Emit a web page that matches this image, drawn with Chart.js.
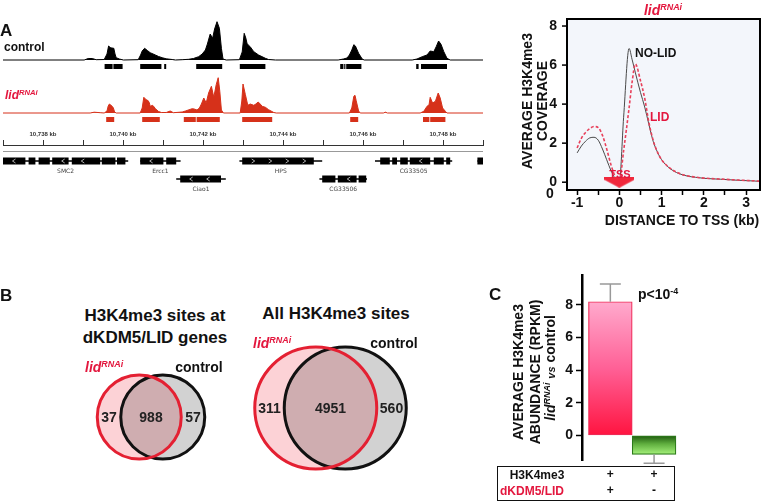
<!DOCTYPE html>
<html>
<head>
<meta charset="utf-8">
<script src="https://cdn.jsdelivr.net/npm/chart.js@4.4.1/dist/chart.umd.min.js"></script>
<style>
body { margin: 0; background: #fff; }
#fig { position: relative; width: 762px; height: 501px; overflow: hidden; font-family: 'Liberation Sans', Arial, sans-serif; font-weight: bold; color: #111; }
#fig canvas { position: absolute; }
.t { position: absolute; white-space: nowrap; line-height: 1; }
.c { transform: translate(-50%, -50%); }
.l { transform: translateY(-50%); }
.v { transform: translate(-50%, -50%) rotate(-90deg); }
.red { color: #e3173e; }
.it { font-style: italic; }
sup { font-size: 0.64em; vertical-align: 0.55em; line-height: 0; }
.box { position: absolute; border: 1.5px solid #111; box-sizing: border-box; }
</style>
</head>
<body>
<div id="fig">
  <canvas id="ctrlTrack" width="486" height="54" style="left:0;top:18px"></canvas>
  <canvas id="lidTrack" width="486" height="54" style="left:0;top:71px"></canvas>
  <canvas id="genes" width="486" height="72" style="left:0;top:125px"></canvas>
  <canvas id="tss" width="262" height="232" style="left:500px;top:0"></canvas>
  <canvas id="vennSmall" width="132" height="104" style="left:85px;top:365px"></canvas>
  <canvas id="vennAll" width="165" height="136" style="left:248px;top:340px"></canvas>
  <canvas id="bars" width="220" height="241" style="left:480px;top:260px"></canvas>

  <div class="t l" style="left:0;top:30px;font-size:17px">A</div>
  <div class="t l" style="left:4px;top:47px;font-size:12px">control</div>
  <div class="t l red" style="left:5px;top:95px;font-size:12px"><span class="it">lid</span><sup class="it">RNAi</sup></div>

  <div class="t c red" style="left:663px;top:10px;font-size:14px"><span class="it">lid</span><sup class="it">RNAi</sup></div>
  <div class="t v" style="left:527px;top:101px;font-size:14px">AVERAGE H3K4me3</div>
  <div class="t v" style="left:542px;top:101px;font-size:14px">COVERAGE</div>
  <div class="t c" style="left:682px;top:220px;font-size:14px">DISTANCE TO TSS (kb)</div>
  <div class="t c" style="left:550px;top:193px;font-size:14px">0</div>
  <div class="t l" style="left:635px;top:53px;font-size:12px">NO-LID</div>
  <div class="t l red" style="left:650px;top:117px;font-size:12px">LID</div>
  <div class="t c red" style="left:620px;top:174px;font-size:11px">TSS</div>

  <div class="t l" style="left:0;top:295px;font-size:17px">B</div>
  <div class="t c" style="left:155px;top:315px;font-size:17px">H3K4me3 sites at</div>
  <div class="t c" style="left:155px;top:337px;font-size:17px">dKDM5/LID genes</div>
  <div class="t c" style="left:336px;top:313px;font-size:17px">All H3K4me3 sites</div>
  <div class="t l red" style="left:85px;top:367px;font-size:14px"><span class="it">lid</span><sup class="it">RNAi</sup></div>
  <div class="t c" style="left:199px;top:367px;font-size:14px">control</div>
  <div class="t l red" style="left:253px;top:343px;font-size:14px"><span class="it">lid</span><sup class="it">RNAi</sup></div>
  <div class="t c" style="left:394px;top:343px;font-size:14px">control</div>

  <div class="t l" style="left:489px;top:294px;font-size:17px">C</div>
  <div class="t v" style="left:518px;top:372px;font-size:14px">AVERAGE H3K4me3</div>
  <div class="t v" style="left:535px;top:372px;font-size:14px">ABUNDANCE (RPKM)</div>
  <div class="t v" style="left:550px;top:368px;font-size:14px"><span class="it">lid</span><sup class="it">RNAi</sup> <span class="it" style="font-size:11px">vs</span> control</div>
  <div class="t l" style="left:638px;top:294px;font-size:14px">p&lt;10<sup>-4</sup></div>
  <div class="box" style="left:497px;top:466px;width:178px;height:35px"></div>
  <div class="t c" style="left:537px;top:475px;font-size:12px">H3K4me3</div>
  <div class="t c red" style="left:532px;top:491px;font-size:12px">dKDM5/LID</div>
</div>

<script>
// ---- A: genome browser tracks (position in kb, coverage)
const ctrlKb = [10737, 10739.03, 10739.13, 10739.23, 10739.33, 10739.53, 10739.60, 10739.64, 10739.68, 10739.72, 10739.77, 10739.80, 10739.83, 10739.91, 10740.01,
    10740.38, 10740.44, 10740.48, 10740.54, 10740.61, 10740.68, 10740.81, 10740.89, 10740.98, 10741.08, 10741.23, 10741.31,
    10741.48, 10741.64, 10741.76, 10741.89, 10741.98, 10742.06, 10742.11, 10742.18, 10742.24, 10742.29, 10742.35, 10742.41, 10742.46, 10742.50, 10742.58,
    10742.91, 10742.98, 10743.03, 10743.07, 10743.10, 10743.13, 10743.18, 10743.22, 10743.27, 10743.39, 10743.56, 10743.64, 10743.81,
    10745.38, 10745.51, 10745.60, 10745.66, 10745.72, 10745.77, 10745.81, 10745.89, 10745.98, 10746.03,
    10747.23, 10747.35, 10747.48, 10747.60, 10747.68, 10747.77, 10747.83, 10747.89, 10747.95, 10748.02, 10748.10, 10748.18, 10749]
const ctrlCov = [0, 0, 1.5, 1.5, 0.3, 0.5, 6, 14, 12.5, 12, 11.7, 6, 2.3, 1, 0,
    0.3, 5, 9, 11.7, 9.5, 7.3, 5, 3.5, 2.3, 1.2, 0.5, 0,
    0.3, 0.7, 1.5, 3.3, 6, 10, 16, 26, 21.7, 31, 38.3, 31.7, 11.7, 1, 0,
    0.3, 8, 26.7, 22, 16.7, 15, 13.3, 11, 8.3, 5, 1.7, 0.5, 0,
    0, 1, 2, 5, 10, 15.3, 14, 6.7, 1, 0,
    0, 1, 3.3, 5, 9, 8.3, 13.3, 19, 15.7, 8.3, 1.7, 0, 0]
const lidKb = [10737, 10739.18, 10739.28, 10739.43, 10739.53, 10739.60, 10739.63, 10739.66, 10739.73, 10739.76, 10739.79, 10739.83,
    10740.43, 10740.48, 10740.52, 10740.58, 10740.63, 10740.66, 10740.68, 10740.74, 10740.78, 10740.81, 10740.89, 10740.96, 10741.08, 10741.18, 10741.26,
    10741.48, 10741.56, 10741.73, 10741.78, 10741.85, 10741.91, 10741.96, 10742.02, 10742.08, 10742.14, 10742.21, 10742.27, 10742.33, 10742.38, 10742.42, 10742.46, 10742.51,
    10742.93, 10742.97, 10743.00, 10743.06, 10743.12, 10743.18, 10743.27, 10743.32, 10743.38, 10743.43, 10743.48, 10743.56, 10743.64, 10743.77, 10743.83,
    10745.66, 10745.72, 10745.77, 10745.80, 10745.83, 10745.89, 10745.93,
    10746.51, 10746.56, 10746.61,
    10747.43, 10747.52, 10747.60, 10747.65, 10747.68, 10747.74, 10747.81, 10747.88, 10747.93, 10747.99, 10748.06, 10748.10, 10749]
const lidCov = [0, 0, 0.8, 0.3, 0, 2, 7, 9, 6.7, 5, 1, 0,
    0, 5, 15.7, 13.3, 12.3, 10, 6.7, 7.7, 6, 4.3, 1.5, 0.5, 0.5, 2, 0.3,
    1, 2, 4.3, 4, 3, 5, 9, 15, 10, 20, 26.7, 15.7, 28.3, 35.3, 21.7, 3, 0,
    0, 12, 29, 18.3, 7.7, 9, 7.7, 9, 11, 9, 6.7, 5.7, 3.3, 0.5, 0,
    0, 5, 16.7, 17.7, 12.3, 2, 0,
    0, 0.8, 0,
    0, 1.7, 6.7, 8, 15.7, 10, 11.7, 20, 15, 5, 1.7, 0, 0]

// called peaks under each track
const ctrlPeakStart = [10739.54, 10739.76, 10740.43, 10741.03, 10741.83, 10742.92, 10745.43, 10745.53, 10745.58, 10747.33, 10747.45]
const ctrlPeakEnd = [10739.74, 10739.99, 10740.96, 10741.08, 10742.48, 10743.56, 10745.51, 10745.56, 10745.96, 10747.39, 10748.10]
const lidPeakStart = [10739.58, 10740.48, 10741.52, 10741.84, 10742.98, 10745.68, 10747.50, 10747.68]
const lidPeakEnd = [10739.78, 10740.92, 10741.82, 10742.42, 10743.73, 10745.88, 10747.66, 10748.06]

// ruler ticks (kb)
const kbTicks = [10737, 10738, 10739, 10740, 10741, 10742, 10743, 10744, 10745, 10746, 10747, 10748, 10749]

// gene models
const geneNames = ['SMC2', 'Ercc1', 'HPS', 'CG33505', '', 'Ciao1', 'CG33506']
const geneRow = [1, 1, 1, 1, 1, 0, 0]
const geneStrand = [-1, -1, 1, -1, 0, -1, -1]
const geneStart = [10737.0, 10740.43, 10742.91, 10746.30, 10748.86, 10741.33, 10744.91]
const geneEnd = [10740.13, 10741.44, 10744.98, 10748.23, 10749.0, 10742.57, 10746.10]
const geneExons = [
    [[10737.0, 10737.56], [10737.64, 10737.81], [10737.89, 10738.17], [10738.23, 10738.64], [10738.72, 10739.43], [10739.47, 10739.81], [10739.85, 10740.06]],
    [[10740.43, 10741.01], [10741.08, 10741.33]],
    [[10742.98, 10744.77]],
    [[10746.43, 10746.67], [10746.73, 10746.85], [10746.93, 10747.12], [10747.17, 10747.68], [10747.77, 10748.02], [10748.08, 10748.18]],
    [[10748.86, 10749.0]],
    [[10741.43, 10742.45]],
    [[10744.98, 10745.31], [10745.37, 10745.84], [10745.89, 10746.08]]
]

// ---- A right: average profile around TSS
const tssKb = [-1, -0.9, -0.8, -0.7, -0.6, -0.5, -0.4, -0.3, -0.2, -0.1, 0, 0.1, 0.23, 0.3, 0.38, 0.5, 0.6, 0.7, 0.8, 0.9, 1.0, 1.2, 1.4, 1.6, 1.8, 2.0, 2.4, 2.8, 3.2, 3.35]
const noLidCov = [1.5, 1.85, 2.1, 2.27, 2.3, 2.15, 1.7, 1.15, 0.6, 0.2, 0.05, 3.3, 6.85, 6.3, 5.6, 4.6, 3.85, 2.95, 2.1, 1.55, 1.15, 0.7, 0.45, 0.32, 0.25, 0.2, 0.15, 0.1, 0.06, 0.04]
const lidProfileCov = [1.75, 2.25, 2.55, 2.75, 2.85, 2.8, 2.4, 1.7, 0.9, 0.3, 0.05, 1.6, 3.8, 5.1, 6.05, 5.2, 4.3, 3.05, 2.15, 1.55, 1.15, 0.72, 0.47, 0.33, 0.26, 0.21, 0.16, 0.11, 0.07, 0.05]
const tssXTicks = [-1, -0.5, 0, 0.5, 1, 1.5, 2, 2.5, 3]
const tssYTicks = [0, 2, 4, 6, 8]

// ---- B: venn counts (lid only, both, control only)
const vennSmall = [37, 988, 57]
const vennAll = [311, 4951, 560]

// ---- C: abundance bars
const barValues = [8.2, -1.17]
const barErrors = [1.08, 0.55]
const barRowH3 = ['+', '+']
const barRowLid = ['+', '-']
const barYTicks = [0, 2, 4, 6, 8]

Chart.defaults.font.family = "'Liberation Sans', Arial, sans-serif"
Chart.defaults.animation = false
Chart.defaults.responsive = false
Chart.defaults.devicePixelRatio = 1
Chart.defaults.layout.autoPadding = false
Chart.defaults.plugins.legend.display = false
Chart.defaults.plugins.tooltip.enabled = false
Chart.defaults.elements.point.radius = 0

const trackRed = '#d6311a'

function segs(starts, ends, y) {
    let pts = []
    starts.forEach((s, i) => {
        pts.push({ x: s, y: y }, { x: ends[i], y: y }, { x: ends[i], y: null })
    })
    return pts
}

function fixedTicks(list) {
    return function(scale) {
        scale.ticks = list.map(v => ({ value: v }))
    }
}

function trackChart(id, kb, cov, pStart, pEnd, color) {
    new Chart(document.getElementById(id), {
        type: 'line',
        data: {
            datasets: [{
                data: kb.map((x, i) => ({ x: x, y: cov[i] })),
                borderColor: color,
                backgroundColor: color,
                borderWidth: 1,
                fill: 'origin'
            }, {
                data: segs(pStart, pEnd, -6.5),
                borderColor: color,
                borderWidth: 5,
                spanGaps: false
            }]
        },
        options: {
            layout: { padding: { left: 3, right: 3 } },
            scales: {
                x: { type: 'linear', min: 10737, max: 10749, display: false },
                y: { min: -12, max: 42, display: false }
            }
        }
    })
}

trackChart('ctrlTrack', ctrlKb, ctrlCov, ctrlPeakStart, ctrlPeakEnd, '#000')
trackChart('lidTrack', lidKb, lidCov, lidPeakStart, lidPeakEnd, trackRed)

// genes + coordinate ruler
let intronPts = [],
    exonPts = []
geneNames.forEach((g, i) => {
    intronPts.push({ x: geneStart[i], y: geneRow[i] }, { x: geneEnd[i], y: geneRow[i] }, { x: geneEnd[i], y: null })
    geneExons[i].forEach(e => {
        exonPts.push({ x: e[0], y: geneRow[i] }, { x: e[1], y: geneRow[i] }, { x: e[1], y: null })
    })
})

const geneLabels = {
    id: 'geneLabels',
    afterDatasetsDraw(chart) {
        const ctx = chart.ctx,
            xs = chart.scales.x,
            ys = chart.scales.y,
            a = chart.chartArea
        ctx.save()
        ctx.strokeStyle = '#999'
        ctx.lineWidth = 1
        ctx.beginPath()
        ctx.moveTo(a.left, a.top + 6.5)
        ctx.lineTo(a.right, a.top + 6.5)
        ctx.stroke()

        // strand chevrons inside the exons
        ctx.strokeStyle = 'rgba(255,255,255,0.85)'
        ctx.lineWidth = 0.8
        geneExons.forEach((ex, i) => {
            if (!geneStrand[i]) return
            const y = ys.getPixelForValue(geneRow[i])
            ex.forEach(e => {
                const x0 = xs.getPixelForValue(e[0]),
                    x1 = xs.getPixelForValue(e[1])
                for (let x = x0 + 11; x < x1 - 4; x += 17) {
                    ctx.beginPath()
                    ctx.moveTo(x + geneStrand[i] * -1.5, y - 2)
                    ctx.lineTo(x + geneStrand[i] * 1.5, y)
                    ctx.lineTo(x + geneStrand[i] * -1.5, y + 2)
                    ctx.stroke()
                }
            })
        })

        ctx.fillStyle = '#444'
        ctx.font = "6px 'DejaVu Sans', sans-serif"
        ctx.textAlign = 'center'
        ctx.textBaseline = 'middle'
        geneNames.forEach((g, i) => {
            ctx.fillText(g, xs.getPixelForValue((geneStart[i] + geneEnd[i]) / 2), ys.getPixelForValue(geneRow[i]) + 10)
        })
        ctx.restore()
    }
}

new Chart(document.getElementById('genes'), {
    type: 'line',
    data: {
        datasets: [{
            data: intronPts,
            borderColor: '#000',
            borderWidth: 1.5,
            spanGaps: false
        }, {
            data: exonPts,
            borderColor: '#000',
            borderWidth: 7,
            spanGaps: false
        }]
    },
    options: {
        layout: { padding: { left: 3, right: 3 } },
        scales: {
            x: {
                type: 'linear',
                position: 'top',
                min: 10737,
                max: 10749,
                afterBuildTicks: fixedTicks(kbTicks),
                afterFit: s => { s.height = 20 },
                border: { color: '#333', width: 1 },
                grid: { drawOnChartArea: false, tickLength: 5, color: '#333' },
                ticks: {
                    autoSkip: false,
                    maxRotation: 0,
                    padding: 2,
                    color: '#333',
                    font: { size: 6, weight: 'bold' },
                    callback: v => v % 2 === 0 ? v.toLocaleString('en-US') + ' kb' : ''
                }
            },
            y: { min: -1, max: 1.89, display: false }
        }
    },
    plugins: [geneLabels]
})

// ---- TSS profile
// frame + y axis labels/ticks drawn from the y scale
const frame = {
    id: 'frame',
    beforeDraw(chart) {
        const a = chart.chartArea
        chart.ctx.save()
        chart.ctx.fillStyle = '#f3f6fb'
        chart.ctx.fillRect(a.left, a.top, a.width, a.height)
        chart.ctx.restore()
    },
    afterDraw(chart) {
        const a = chart.chartArea,
            ctx = chart.ctx,
            ys = chart.scales.y
        ctx.save()
        ctx.strokeStyle = '#000'
        ctx.lineWidth = 2
        ctx.strokeRect(a.left, a.top, a.width, a.height)
        ctx.lineWidth = 1.5
        ctx.fillStyle = '#111'
        ctx.font = "bold 14px 'Liberation Sans', Arial, sans-serif"
        ctx.textAlign = 'right'
        ctx.textBaseline = 'middle'
        tssYTicks.forEach(v => {
            const y = ys.getPixelForValue(v)
            ctx.beginPath()
            ctx.moveTo(a.left - 5, y)
            ctx.lineTo(a.left, y)
            ctx.stroke()
            ctx.fillText(String(v), a.left - 10, y)
        })
        ctx.restore()
    }
}

const arrow = document.createElement('canvas')
arrow.width = 30
arrow.height = 11
const actx = arrow.getContext('2d')
actx.fillStyle = '#f0283c'
actx.beginPath()
actx.moveTo(0, 0)
actx.lineTo(30, 0)
actx.lineTo(30, 3)
actx.lineTo(15, 11)
actx.lineTo(0, 3)
actx.closePath()
actx.fill()

new Chart(document.getElementById('tss'), {
    type: 'line',
    data: {
        datasets: [{
            data: [{ x: 0, y: 0 }],
            showLine: false,
            pointStyle: arrow,
            pointRadius: 5,
            order: 0
        }, {
            data: tssKb.map((x, i) => ({ x: x, y: lidProfileCov[i] })),
            borderColor: '#e8405a',
            borderWidth: 1.6,
            borderDash: [3, 2],
            cubicInterpolationMode: 'monotone',
            order: 1
        }, {
            data: tssKb.map((x, i) => ({ x: x, y: noLidCov[i] })),
            borderColor: '#4a4a4a',
            borderWidth: 1,
            cubicInterpolationMode: 'monotone',
            order: 2
        }]
    },
    options: {
        layout: { padding: { top: 19, right: 2 } },
        scales: {
            x: {
                type: 'linear',
                min: -1.24,
                max: 3.33,
                afterBuildTicks: fixedTicks(tssXTicks),
                afterFit: s => { s.height = 42 },
                border: { display: false },
                grid: { drawOnChartArea: false, tickLength: 5, color: '#000', tickWidth: 1.5 },
                ticks: {
                    autoSkip: false,
                    maxRotation: 0,
                    padding: 0,
                    color: '#111',
                    font: { size: 14, weight: 'bold' },
                    callback: v => Number.isInteger(v) ? String(v) : ''
                }
            },
            y: {
                min: -0.4,
                max: 8.36,
                afterBuildTicks: fixedTicks(tssYTicks),
                afterFit: s => { s.width = 67 },
                border: { display: false },
                grid: { display: false },
                ticks: { display: false }
            }
        }
    },
    plugins: [frame]
})

// ---- Venn diagrams
const blend = {
    id: 'blend',
    beforeDatasetDraw(chart, args) {
        chart.ctx.save()
        if (chart.data.datasets[args.index].blend) chart.ctx.globalCompositeOperation = 'multiply'
    },
    afterDatasetDraw(chart) {
        chart.ctx.restore()
    }
}

const vennCounts = {
    id: 'vennCounts',
    afterDatasetsDraw(chart, args, opts) {
        const L = chart.getDatasetMeta(0).data[0],
            R = chart.getDatasetMeta(1).data[0]
        const r = L.options.radius
        const xs = [((L.x - r) + (R.x - r)) / 2, ((R.x - r) + (L.x + r)) / 2, ((L.x + r) + (R.x + r)) / 2]
        const ctx = chart.ctx
        ctx.save()
        ctx.fillStyle = '#222'
        ctx.font = "bold 14px 'Liberation Sans', Arial, sans-serif"
        ctx.textAlign = 'center'
        ctx.textBaseline = 'middle'
        opts.counts.forEach((c, i) => ctx.fillText(String(c), xs[i], L.y + 1))
        ctx.restore()
    }
}

function venn(id, counts, half, r) {
    const cv = document.getElementById(id)
    const w = cv.width / 2,
        h = cv.height / 2
    new Chart(cv, {
        type: 'bubble',
        data: {
            datasets: [
                { data: [{ x: -half, y: 0, r: r }], borderColor: '#e42032', borderWidth: 3, backgroundColor: 'transparent', clip: false, order: 1 },
                { data: [{ x: half, y: 0, r: r }], borderColor: '#111', borderWidth: 3, backgroundColor: 'transparent', clip: false, order: 2 },
                { data: [{ x: -half, y: 0, r: r }], borderWidth: 0, backgroundColor: '#fcd2d6', clip: false, order: 3, blend: true },
                { data: [{ x: half, y: 0, r: r }], borderWidth: 0, backgroundColor: '#d2d2d2', clip: false, order: 4, blend: true }
            ]
        },
        options: {
            layout: { autoPadding: false, padding: 0 },
            scales: {
                x: { min: -w, max: w, display: false },
                y: { min: -h, max: h, display: false }
            },
            plugins: { vennCounts: { counts: counts } }
        },
        plugins: [blend, vennCounts]
    })
}

venn('vennSmall', vennSmall, 11.75, 42)
venn('vennAll', vennAll, 14.75, 61)

// ---- C: bars with error bars
function barFill(c) {
    const chart = c.chart
    if (!chart.chartArea) return 'transparent'
    const ys = chart.scales.y,
        v = barValues[c.dataIndex]
    const g = chart.ctx.createLinearGradient(0, ys.getPixelForValue(v), 0, ys.getPixelForValue(0))
    if (v >= 0) {
        g.addColorStop(0, '#ffaacd')
        g.addColorStop(0.5, '#ff6096')
        g.addColorStop(1, '#ff1440')
    } else {
        g.addColorStop(0, '#a6f27c')
        g.addColorStop(0.55, '#5fae3e')
        g.addColorStop(1, '#1b560c')
    }
    return g
}

const errorBars = {
    id: 'errorBars',
    afterDatasetsDraw(chart) {
        const ctx = chart.ctx,
            ys = chart.scales.y
        ctx.save()
        ctx.strokeStyle = '#999'
        ctx.lineWidth = 1.5
        chart.getDatasetMeta(0).data.forEach((bar, i) => {
            const v = barValues[i]
            const end = ys.getPixelForValue(v >= 0 ? v + barErrors[i] : v - barErrors[i])
            ctx.beginPath()
            ctx.moveTo(bar.x, bar.y)
            ctx.lineTo(bar.x, end)
            ctx.moveTo(bar.x - 10.5, end)
            ctx.lineTo(bar.x + 10.5, end)
            ctx.stroke()
        })
        ctx.restore()
    }
}

new Chart(document.getElementById('bars'), {
    type: 'bar',
    data: {
        datasets: [{
            data: barValues.map((v, i) => ({ x: i, y: v })),
            backgroundColor: barFill,
            borderColor: ['#ee2a55', '#2c7a1a'],
            borderWidth: 1.2,
            borderSkipped: false,
            barPercentage: 1,
            categoryPercentage: 1
        }]
    },
    options: {
        layout: { padding: { top: 15 } },
        scales: {
            x: {
                type: 'linear',
                offset: false,
                min: -0.648,
                max: 2.05,
                afterBuildTicks: fixedTicks(barValues.map((v, i) => i)),
                afterFit: s => { s.height = 41 },
                border: { display: false },
                grid: { display: false, drawTicks: false },
                ticks: {
                    autoSkip: false,
                    padding: 7,
                    color: '#111',
                    font: { size: 12, weight: 'bold', lineHeight: 1.3 },
                    callback: v => [barRowH3[v], barRowLid[v]]
                }
            },
            y: {
                min: -1.516,
                max: 9.84,
                afterBuildTicks: fixedTicks(barYTicks),
                afterFit: s => { s.width = 102 },
                border: { color: '#000', width: 2.5 },
                grid: { drawOnChartArea: false, tickLength: 6, color: '#000', tickWidth: 1.5 },
                ticks: { autoSkip: false, padding: 3, color: '#111', font: { size: 14, weight: 'bold' } }
            }
        }
    },
    plugins: [errorBars]
})
</script>
</body>
</html>
